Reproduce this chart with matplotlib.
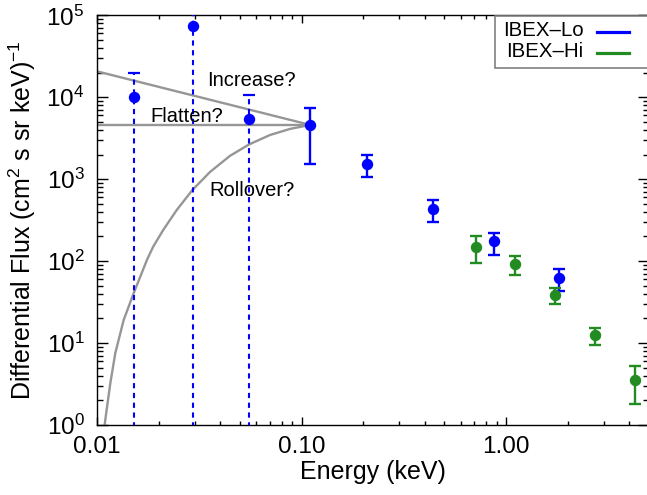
import matplotlib
matplotlib.use("Agg")
import matplotlib.pyplot as plt
import numpy as np
from matplotlib.patches import Rectangle
from matplotlib.lines import Line2D
from matplotlib.ticker import FixedLocator, FixedFormatter, LogLocator, NullFormatter

plt.rcParams['font.family'] = ['Liberation Sans', 'DejaVu Sans']
plt.rcParams['mathtext.fontset'] = 'custom'
plt.rcParams['mathtext.rm'] = 'Liberation Sans'
plt.rcParams['mathtext.it'] = 'Liberation Sans:italic'
plt.rcParams['mathtext.default'] = 'regular'

# ---------------- data ----------------
# IBEX-Lo: points with full error bars
lo_energy = [0.110, 0.210, 0.441, 0.871, 1.81]
lo_flux = [4550, 1550, 438, 175, 63]
lo_err_low = [1550, 1070, 304, 120, 43]
lo_err_high = [7400, 2000, 560, 221, 81]

# IBEX-Lo: low-energy points whose lower bound goes to zero (dashed)
lo_dash_energy = [0.0151, 0.0294, 0.0552]
lo_dash_flux = [1.0e4, 7.3e4, 5430]
lo_dash_low = [0.01, 0.01, 0.01]
lo_dash_high = [2.0e4, 3.0e5, 1.07e4]

# IBEX-Hi
hi_energy = [0.711, 1.11, 1.74, 2.72, 4.26]
hi_flux = [148, 92, 38.8, 12.5, 3.54]
hi_err_low = [96, 68, 30, 9.5, 1.8]
hi_err_high = [200, 114, 47, 15.4, 5.3]

# Guide curves
increase_x = [0.01, 0.11]
increase_y = [2.07e4, 4600]
flatten_x = [0.01, 0.11]
flatten_y = [4600, 4600]
rollover_x = [0.110, 0.1060, 0.0878, 0.0701, 0.0554, 0.0447, 0.0357, 0.0292,
              0.0245, 0.0211, 0.01885, 0.01756, 0.01512, 0.01351, 0.01229,
              0.01162, 0.01098, 0.01090, 0.01080]
rollover_y = [4600, 4505, 4105, 3460, 2655, 1928, 1225, 733,
              418, 241, 151, 104, 40.7, 19.2, 7.55,
              3.25, 1.16, 1.0, 0.5]

labels = ['IBEX\u2013Lo', 'IBEX\u2013Hi']
colors = ['#0000ff', '#228b22']
guide_labels = ['Increase?', 'Flatten?', 'Rollover?']

xticks = [0.01, 0.1, 1.0]
xticklabels = ['0.01', '0.10', '1.00']

# ---------------- figure ----------------
fig = plt.figure(figsize=(6.47, 4.95), dpi=100)
ax = fig.add_axes([97/647, 70/495, (649-97)/647, (425-15.3)/495])
ax.set_xscale('log')
ax.set_yscale('log')
ax.set_xlim(0.01, 5.0)
ax.set_ylim(1, 1e5)

gray = '#969696'
for gx, gy in ((increase_x, increase_y), (flatten_x, flatten_y), (rollover_x, rollover_y)):
    ax.plot(gx, gy, color=gray, lw=1.7, zorder=2, solid_joinstyle='round')

def yerr(v, lo, hi):
    v = np.asarray(v, float)
    return [v - np.asarray(lo, float), np.asarray(hi, float) - v]

# dashed error bars
eb = ax.errorbar(lo_dash_energy, lo_dash_flux,
                 yerr=yerr(lo_dash_flux, lo_dash_low, lo_dash_high),
                 fmt='o', color=colors[0], ms=7.2, elinewidth=1.5,
                 capsize=4, capthick=1.6, zorder=3)
for lc in eb[2]:
    lc.set_linestyle((0, (2.5, 2.2)))

ax.errorbar(lo_energy, lo_flux, yerr=yerr(lo_flux, lo_err_low, lo_err_high),
            fmt='o', color=colors[0], ms=7.2, elinewidth=1.7,
            capsize=4, capthick=1.7, zorder=3)
ax.errorbar(hi_energy, hi_flux, yerr=yerr(hi_flux, hi_err_low, hi_err_high),
            fmt='o', color=colors[1], ms=7.2, elinewidth=1.7,
            capsize=4, capthick=1.7, zorder=3)

# guide texts
ax.text(0.0566, 1.594e4, guide_labels[0], fontsize=14.5, ha='center', va='center')
ax.text(0.02747, 5800, guide_labels[1], fontsize=14.5, ha='center', va='center')
ax.text(0.0571, 726, guide_labels[2], fontsize=14.5, ha='center', va='center')

# ticks
ax.xaxis.set_major_locator(FixedLocator(xticks))
ax.xaxis.set_major_formatter(FixedFormatter(xticklabels))
ax.xaxis.set_minor_locator(LogLocator(base=10, subs=np.arange(2, 10)))
ax.xaxis.set_minor_formatter(NullFormatter())
ax.yaxis.set_minor_locator(LogLocator(base=10, subs=np.arange(2, 10)))
ax.yaxis.set_minor_formatter(NullFormatter())
ax.tick_params(axis='both', which='both', direction='in', top=True, right=True,
               width=1.0, labelsize=17.5, colors='black')
ax.tick_params(axis='x', which='major', length=6, pad=8)
ax.tick_params(axis='x', which='minor', length=3)
ax.tick_params(axis='y', which='major', length=8, pad=9)
ax.tick_params(axis='y', which='minor', length=4.5)
for s in ax.spines.values():
    s.set_linewidth(1.0)

ax.set_xlabel('Energy (keV)', fontsize=18, labelpad=1)
ax.set_ylabel('Differential Flux (cm$^2$ s sr keV)$^{\u22121}$', fontsize=18, labelpad=6)

# legend (manual, box runs past the figure edge)
tf = fig.transFigure
box = Rectangle((495/647, 1-67.7/495), 0.4, (67.7-16)/495, transform=tf,
                facecolor='white', edgecolor='#808080', lw=1.2, clip_on=False, zorder=10)
ax.add_artist(box)
leg_y = [30.5, 51.5]
for lab, col, yy in zip(labels, colors, leg_y):
    ax.text(583.5/647, 1-yy/495, lab, transform=tf, ha='right', va='center',
            fontsize=14.7, zorder=11, clip_on=False)
    ln = Line2D([596.7/647, 629/647], [1-(yy+1)/495]*2, transform=tf, color=col,
                lw=2.3, zorder=11, clip_on=False)
    ax.add_artist(ln)

fig.savefig('out.png', dpi=100)
